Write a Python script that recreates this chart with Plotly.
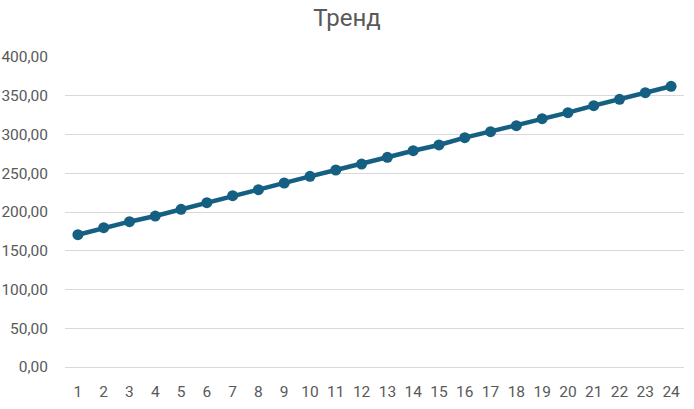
import plotly.graph_objects as go

# Trend data
periods = [str(i) for i in range(1, 25)]
trend = [170.7, 179.7, 187.5, 194.8, 203.5, 212.0, 221.0, 228.8,
         237.4, 246.0, 254.2, 261.9, 270.6, 279.1, 286.5, 295.9,
         303.6, 311.4, 320.4, 328.2, 337.2, 345.4, 354.0, 362.2]
y_ticks = [0, 50, 100, 150, 200, 250, 300, 350, 400]
y_tick_labels = [f"{v},00" for v in y_ticks]

line_color = '#156082'
text_color = '#595959'
grid_color = '#d9d9d9'

fig = go.Figure()

fig.add_trace(go.Scatter(
    x=periods,
    y=trend,
    mode='lines+markers',
    name='Тренд',
    line=dict(color=line_color, width=4.5),
    marker=dict(color=line_color, size=11),
    cliponaxis=False
))

fig.update_layout(
    title={
        'text': 'Тренд',
        'x': 0.5,
        'xanchor': 'center',
        'y': 0.958,
        'yanchor': 'middle',
        'font': {'size': 24, 'color': text_color}
    },
    width=694,
    height=409,
    showlegend=False,
    margin=dict(l=65, r=10, t=57, b=42),
    plot_bgcolor='white',
    paper_bgcolor='white',
    font=dict(family='Roboto, Open Sans, sans-serif', color=text_color)
)

fig.update_xaxes(
    type='category',
    range=[-0.5, 23.5],
    automargin=False,
    showgrid=False,
    showline=False,
    zeroline=False,
    ticks='',
    tickfont=dict(size=15.5, color=text_color),
    ticklabelstandoff=13
)

fig.update_yaxes(
    range=[0, 400],
    automargin=False,
    tickvals=y_ticks,
    ticktext=y_tick_labels,
    showgrid=True,
    gridcolor=grid_color,
    gridwidth=1.3,
    zeroline=True,
    zerolinecolor=grid_color,
    zerolinewidth=1.3,
    showline=False,
    ticks='',
    tickfont=dict(size=15.5, color=text_color),
    ticklabelstandoff=16
)

# drop the browser's default body margin so the figure fills the window
fig.write_html("out.html", config={'displayModeBar': False},
               post_script="document.body.style.margin='0';")
